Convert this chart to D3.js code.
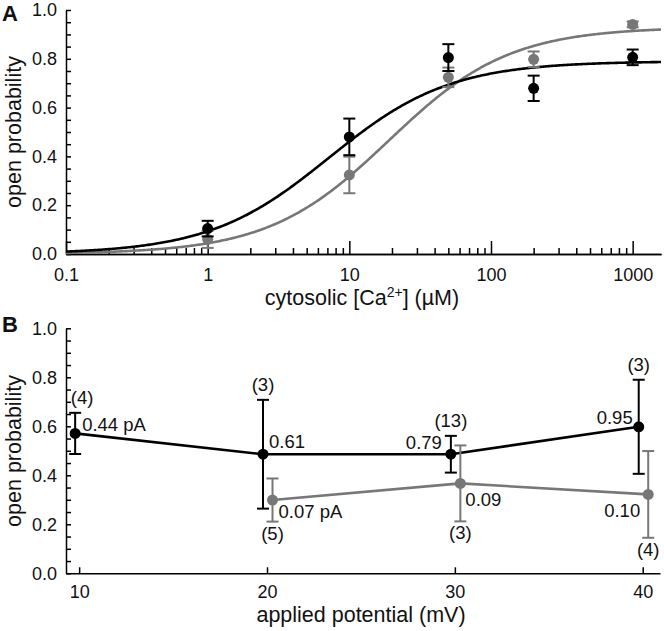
<!DOCTYPE html>
<html>
<head>
<meta charset="utf-8">
<script src="https://cdn.jsdelivr.net/npm/d3@7"></script>
<style>
  body { margin: 0; background: #fff; }
  svg text { font-family: "Liberation Sans", Arial, sans-serif; fill: #111; }
  .axis path, .axis line { stroke: #000; stroke-width: 1.5; }
  .axis text { font-size: 18px; }
</style>
</head>
<body>
<div id="chart"></div>
<script>
// ---- Panel A : Po vs cytosolic Ca2+ ----
var caConc = [1, 10, 50, 200, 1000];
var blackPo = [0.104, 0.48, 0.805, 0.679, 0.806];
var blackErr = [0.032, 0.075, 0.055, 0.052, 0.032];
var grayPo = [0.06, 0.324, 0.724, 0.798, 0.941];
var grayErr = [0.035, 0.075, 0.04, 0.032, 0.012];
// Hill fits (max, EC50, coefficient)
var blackFit = [0.79, 7.2, 1.02];
var grayFit = [0.93, 19, 1.02];
var caTicks = [0.1, 1, 10, 100, 1000];

// ---- Panel B : Po vs applied potential ----
var potentials = [10, 20, 30, 40];
var blackB = [0.571, 0.486, 0.486, 0.598];
var blackBErr = [0.084, 0.222, 0.075, 0.192];
var blackN = ["(4)", "(3)", "(13)", "(3)"];
var blackAmp = ["0.44 pA", "0.61", "0.79", "0.95"];
var grayPot = [20, 30, 40];
var grayB = [0.299, 0.367, 0.322];
var grayBErr = [0.088, 0.155, 0.177];
var grayN = ["(5)", "(3)", "(4)"];
var grayAmp = ["0.07 pA", "0.09", "0.10"];
var potTicks = [10, 20, 30, 40];

var BLACK = "#000";
var GRAY = "#777";

var svg = d3.select("#chart").append("svg")
  .attr("width", 664).attr("height", 631);

var yMinor = d3.range(0, 1.0001, 0.05);
var yFmt = function(d) {
  return Math.abs(Math.round(d * 10) - d * 10) < 1e-6 && Math.round(d * 10) % 2 === 0 ? d.toFixed(1) : "";
};

function drawYAxis(g, y) {
  g.append("g").attr("class", "axis")
    .attr("transform", "translate(66,0)")
    .call(d3.axisLeft(y).tickValues(yMinor).tickFormat(yFmt)
      .tickSize(-5).tickSizeOuter(0).tickPadding(9));
}

function errBars(g, pts, color) {
  var cap = 6;
  var e = g.append("g").attr("stroke", color).attr("stroke-width", 2);
  pts.forEach(function(p) {
    e.append("line").attr("x1", p.x).attr("x2", p.x).attr("y1", p.yt).attr("y2", p.yb);
    e.append("line").attr("x1", p.x - cap).attr("x2", p.x + cap).attr("y1", p.yt).attr("y2", p.yt);
    e.append("line").attr("x1", p.x - cap).attr("x2", p.x + cap).attr("y1", p.yb).attr("y2", p.yb);
  });
}

function dots(g, pts, color) {
  g.append("g").selectAll("circle").data(pts).enter()
    .append("circle")
    .attr("cx", function(p) { return p.x; })
    .attr("cy", function(p) { return p.y; })
    .attr("r", 5.5)
    .attr("fill", color);
}

/* ================= Panel A ================= */
var xA = d3.scaleLog().domain([0.1, 1585]).range([66, 661]);
var yA = d3.scaleLinear().domain([0, 1]).range([254, 10]);
var gA = svg.append("g");

drawYAxis(gA, yA);

// minor x ticks
var minorCa = [];
[0.1, 1, 10, 100, 1000].forEach(function(dec) {
  for (var m = 2; m <= 9; m++) if (dec * m <= 1585) minorCa.push(dec * m);
});
gA.append("g").attr("class", "axis")
  .attr("transform", "translate(0,254)")
  .call(d3.axisBottom(xA).tickValues(minorCa).tickFormat("").tickSize(-6).tickSizeOuter(0));
gA.append("g").attr("class", "axis")
  .attr("transform", "translate(0,254)")
  .call(d3.axisBottom(xA).tickValues(caTicks).tickFormat(function(d) { return String(d); })
    .tickSize(-13).tickSizeOuter(0).tickPadding(14));

// fitted curves
function hill(p) {
  return function(c) { return p[0] / (1 + Math.pow(p[1] / c, p[2])); };
}
var cs = d3.range(-1, 3.2001, 0.01).map(function(l) { return Math.pow(10, l); });
var curve = d3.line().x(function(c) { return xA(c); });

gA.append("path").datum(cs)
  .attr("d", curve.y(function(c) { return yA(hill(grayFit)(c)); }))
  .attr("fill", "none").attr("stroke", GRAY).attr("stroke-width", 2.6);
gA.append("path").datum(cs)
  .attr("d", curve.y(function(c) { return yA(hill(blackFit)(c)); }))
  .attr("fill", "none").attr("stroke", BLACK).attr("stroke-width", 2.6);

function ptsA(vals, errs) {
  return caConc.map(function(c, i) {
    return { x: xA(c), y: yA(vals[i]), yt: yA(vals[i] + errs[i]), yb: yA(vals[i] - errs[i]) };
  });
}
var pgA = ptsA(grayPo, grayErr), pbA = ptsA(blackPo, blackErr);
errBars(gA, pgA, GRAY);
dots(gA, pgA, GRAY);
errBars(gA, pbA, BLACK);
dots(gA, pbA, BLACK);

// axis titles
gA.append("text").attr("transform", "translate(21,132) rotate(-90)")
  .attr("text-anchor", "middle").style("font-size", "21.5px").text("open probability");
var tA = gA.append("text").attr("x", 362).attr("y", 305)
  .attr("text-anchor", "middle").style("font-size", "21.5px");
tA.append("tspan").text("cytosolic [Ca");
tA.append("tspan").attr("dy", -8).style("font-size", "14px").text("2+");
tA.append("tspan").attr("dy", 8).text("] (\u00b5M)");

svg.append("text").attr("x", 2).attr("y", 21).style("font-size", "22px")
  .style("font-weight", "bold").text("A");

/* ================= Panel B ================= */
var xB = d3.scaleLinear().domain([9.3, 40.92]).range([66, 660]);
var yB = d3.scaleLinear().domain([0, 1]).range([573.3, 328.3]);
var gB = svg.append("g");

drawYAxis(gB, yB);
gB.append("g").attr("class", "axis")
  .attr("transform", "translate(0,573.3)")
  .call(d3.axisBottom(xB).tickValues(potTicks).tickSize(-6).tickSizeOuter(0).tickPadding(12));

// small horizontal dodge so the two series do not overlap
var dodgeBlack = -4, dodgeGray = 5.5;

function ptsB(xs, vals, errs, dodge) {
  return xs.map(function(v, i) {
    return { x: xB(v) + dodge, y: yB(vals[i]), yt: yB(vals[i] + errs[i]), yb: yB(vals[i] - errs[i]) };
  });
}
var pbB = ptsB(potentials, blackB, blackBErr, dodgeBlack);
var pgB = ptsB(grayPot, grayB, grayBErr, dodgeGray);

var ln = d3.line().x(function(p) { return p.x; }).y(function(p) { return p.y; });
gB.append("path").datum(pgB).attr("d", ln)
  .attr("fill", "none").attr("stroke", GRAY).attr("stroke-width", 2.6);
gB.append("path").datum(pbB).attr("d", ln)
  .attr("fill", "none").attr("stroke", BLACK).attr("stroke-width", 2.6);
errBars(gB, pgB, GRAY);
dots(gB, pgB, GRAY);
errBars(gB, pbB, BLACK);
dots(gB, pbB, BLACK);

// annotations: n above/below the bars, amplitude next to the points
var lbl = gB.append("g").style("font-size", "18.5px");
var blackAmpPos = [[7, -2, "start"], [6, -6, "start"], [-9, -5, "end"], [-6, -3, "end"]];
var blackNdx = [7, 0, 0, 0];
pbB.forEach(function(p, i) {
  lbl.append("text").attr("x", p.x + blackNdx[i]).attr("y", p.yt - 9)
    .attr("text-anchor", "middle").text(blackN[i]);
  lbl.append("text").attr("x", p.x + blackAmpPos[i][0]).attr("y", p.y + blackAmpPos[i][1])
    .attr("text-anchor", blackAmpPos[i][2]).text(blackAmp[i]);
});
var grayAmpPos = [[6, 18, "start"], [5, 23, "start"], [-8, 23, "end"]];
pgB.forEach(function(p, i) {
  lbl.append("text").attr("x", p.x).attr("y", p.yb + 18)
    .attr("text-anchor", "middle").text(grayN[i]);
  lbl.append("text").attr("x", p.x + grayAmpPos[i][0]).attr("y", p.y + grayAmpPos[i][1])
    .attr("text-anchor", grayAmpPos[i][2]).text(grayAmp[i]);
});

gB.append("text").attr("transform", "translate(21,451) rotate(-90)")
  .attr("text-anchor", "middle").style("font-size", "21.5px").text("open probability");
gB.append("text").attr("x", 361).attr("y", 622)
  .attr("text-anchor", "middle").style("font-size", "21.5px").text("applied potential (mV)");

svg.append("text").attr("x", 2).attr("y", 332).style("font-size", "22px")
  .style("font-weight", "bold").text("B");
</script>
</body>
</html>
